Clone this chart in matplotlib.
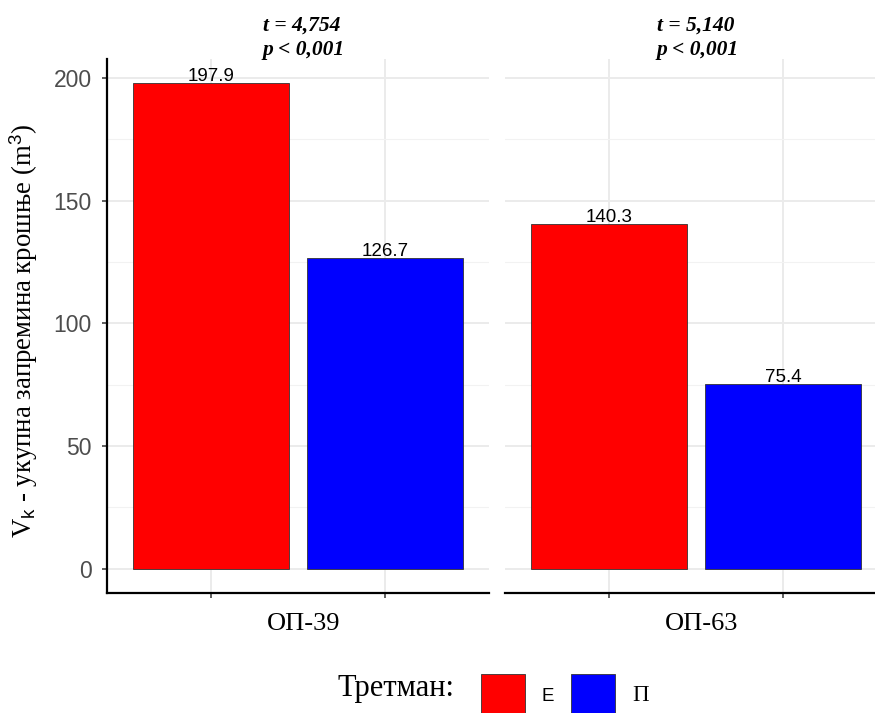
import matplotlib
matplotlib.use("Agg")
import matplotlib.pyplot as plt
from matplotlib.patches import Patch
from matplotlib.ticker import MultipleLocator

# podaci
sites = ["ОП-39", "ОП-63"]
treatments = ["Е", "П"]
vol_e = [197.9, 140.3]
vol_p = [126.7, 75.4]
t_stat = ["4,754", "5,140"]
p_val = ["0,001", "0,001"]
colors = ["#FF0000", "#0000FF"]

SERIF = "Liberation Serif"
SANS = "Liberation Sans"

W, H = 875, 713
fig = plt.figure(figsize=(W / 100, H / 100), dpi=100)

# panel geometrija u pikselima
top, bottom = 58.9, 593
panel_w = 382
lefts = [107, 505]

ymin, ymax = -9.895, 207.795

axes = []
for i, site in enumerate(sites):
    ax = fig.add_axes([lefts[i] / W, (H - bottom) / H, panel_w / W, (bottom - top) / H])
    axes.append(ax)
    vals = [vol_e[i], vol_p[i]]
    xs = [1, 2]
    ax.bar(xs, vals, width=0.9, color=colors, edgecolor="#333333", linewidth=0.6, zorder=3)

    for x, v in zip(xs, vals):
        ax.annotate(f"{v:.1f}", xy=(x, v), xytext=(0, 2), textcoords="offset pixels",
                    ha="center", va="baseline", fontsize=13.5, family=SANS, color="black", zorder=4)

    ax.set_xlim(0.4, 2.6)
    ax.set_ylim(ymin, ymax)
    ax.set_xticks(xs)
    ax.set_xticklabels(["", ""])
    ax.yaxis.set_major_locator(MultipleLocator(50))
    ax.yaxis.set_minor_locator(MultipleLocator(25))

    ax.grid(which="major", color="#EBEBEB", linewidth=1.4, zorder=0)
    ax.grid(which="minor", axis="y", color="#F2F2F2", linewidth=0.8, zorder=0)
    ax.set_axisbelow(True)

    for s in ["top", "right"]:
        ax.spines[s].set_visible(False)
    ax.spines["bottom"].set_linewidth(1.6)
    ax.spines["left"].set_linewidth(1.6)

    ax.tick_params(axis="both", which="major", length=3.6, width=1.1, color="#333333",
                   labelsize=16.5, labelcolor="#4D4D4D", pad=7.5)
    ax.tick_params(axis="y", which="minor", length=0)
    for lab in ax.get_yticklabels():
        lab.set_family(SANS)

    if i == 1:
        ax.spines["left"].set_visible(False)
        ax.tick_params(axis="y", which="both", left=False, labelleft=False)

    # oznaka panela ispod
    ax.annotate(site, xy=(1.5, 0), xycoords=("data", "axes fraction"),
                xytext=(6, -37), textcoords="offset pixels",
                ha="center", va="baseline", fontsize=19, family=SERIF)

    # t-test tekst iznad
    ax.annotate(f"t = {t_stat[i]}\np < {p_val[i]}", xy=(1.5, 1), xycoords=("data", "axes fraction"),
                xytext=(6 if i == 0 else 2, 4), textcoords="offset pixels",
                ha="center", va="baseline", multialignment="left", linespacing=1.3,
                fontsize=15.5, family=SERIF, style="italic", weight="bold", annotation_clip=False)

# y oznaka
plt.rcParams["mathtext.fontset"] = "custom"
plt.rcParams["mathtext.rm"] = SANS
plt.rcParams["mathtext.it"] = SERIF
fig.text(24 / W, (H - 331) / H,
         r"V$_{\mathrm{k}}$ - укупна запремина крошње (m$^{\mathit{3}}$)",
         rotation=90, ha="center", va="center", fontsize=19.3, family=SERIF)

# legenda
fig.text(338 / W, (H - 696) / H, "Третман:", ha="left", va="baseline", fontsize=22, family=SERIF)
handles = [Patch(facecolor=c, edgecolor="#333333", linewidth=0.6) for c in colors]
leg = fig.legend(handles, treatments, loc="upper left", bbox_to_anchor=(481 / W, (H - 674) / H),
                 ncol=2, frameon=False, fontsize=12, borderpad=0, borderaxespad=0,
                 handlelength=2.65, handleheight=3.68, handletextpad=1.0, columnspacing=1.0)
texts = leg.get_texts()
texts[0].set_family(SANS)
texts[0].set_fontsize(13.5)
texts[1].set_family(SERIF)
texts[1].set_fontsize(16.5)

fig.savefig("out.png", dpi=100)
